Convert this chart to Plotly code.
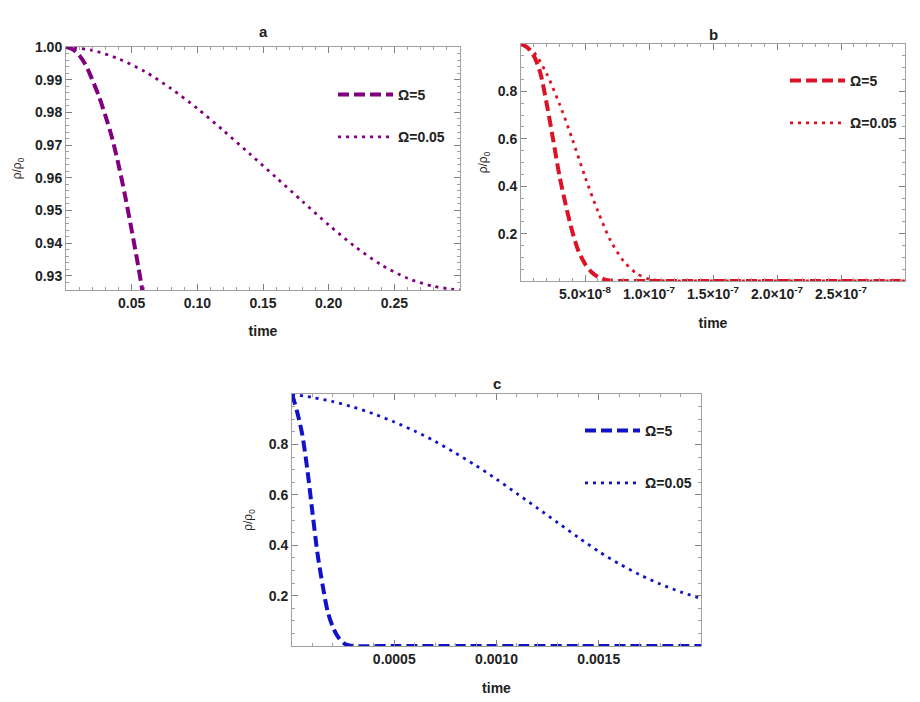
import plotly.graph_objects as go

# ---- panel a : time vs rho/rho0 ----
a_t_om5 = [0, 0.005, 0.010, 0.015, 0.020, 0.025, 0.030, 0.035, 0.040, 0.045, 0.050, 0.055, 0.060]
a_r_om5 = [1.0, 0.9993, 0.9975, 0.9945, 0.9900, 0.9850, 0.9790, 0.9723, 0.9640, 0.9545, 0.9440, 0.9330, 0.9210]
a_t_om005 = [0, 0.02, 0.04, 0.06, 0.08, 0.10, 0.12, 0.14, 0.16, 0.18, 0.20, 0.22, 0.24, 0.26, 0.28, 0.30]
a_r_om005 = [1.0, 0.9990, 0.9964, 0.9925, 0.9873, 0.9812, 0.9744, 0.9673, 0.9601, 0.9528,
             0.9456, 0.9390, 0.9334, 0.9293, 0.9268, 0.9257]

# ---- panel b ----
b_t_om5 = [0, 0.5e-8, 1e-8, 1.5e-8, 2e-8, 2.5e-8, 3e-8, 3.5e-8, 4e-8, 4.5e-8, 5e-8, 5.5e-8,
           6e-8, 6.5e-8, 7e-8, 8e-8, 10e-8, 15e-8, 20e-8, 25e-8, 30e-8]
b_r_om5 = [1.0, 0.985, 0.95, 0.88, 0.75, 0.60, 0.445, 0.32, 0.21, 0.125, 0.072, 0.038,
           0.018, 0.007, 0.002, 0.0, 0.0, 0.0, 0.0, 0.0, 0.0]
b_t_om005 = [0, 1e-8, 2e-8, 3e-8, 4e-8, 5e-8, 6e-8, 7e-8, 8e-8, 9e-8, 10e-8, 11e-8, 12e-8,
             15e-8, 20e-8, 25e-8, 30e-8]
b_r_om005 = [1.0, 0.965, 0.875, 0.748, 0.60, 0.44, 0.295, 0.170, 0.085, 0.033, 0.008, 0.001, 0.0,
             0.0, 0.0, 0.0, 0.0]

# ---- panel c ----
c_t_om5 = [0, 0.25e-4, 0.5e-4, 0.75e-4, 1.0e-4, 1.25e-4, 1.5e-4, 1.75e-4, 2.0e-4, 2.25e-4,
           2.5e-4, 2.75e-4, 3.0e-4, 5e-4, 10e-4, 15e-4, 20e-4]
c_r_om5 = [1.0, 0.93, 0.84, 0.70, 0.53, 0.365, 0.24, 0.135, 0.075, 0.036,
           0.013, 0.003, 0.0, 0.0, 0.0, 0.0, 0.0]
c_t_om005 = [0, 1e-4, 2e-4, 3e-4, 4e-4, 5e-4, 6e-4, 7e-4, 8e-4, 9e-4, 10e-4, 11e-4, 12e-4,
             13e-4, 14e-4, 15e-4, 16e-4, 17e-4, 18e-4, 19e-4, 20e-4]
c_r_om005 = [1.0, 0.986, 0.970, 0.948, 0.921, 0.889, 0.853, 0.812, 0.765, 0.716, 0.662, 0.605,
             0.547, 0.489, 0.431, 0.375, 0.326, 0.283, 0.246, 0.215, 0.188]

# tick labels
a_xticks = [0.05, 0.10, 0.15, 0.20, 0.25]
a_xlabels = ["0.05", "0.10", "0.15", "0.20", "0.25"]
a_yticks = [0.93, 0.94, 0.95, 0.96, 0.97, 0.98, 0.99, 1.00]
a_ylabels = ["0.93", "0.94", "0.95", "0.96", "0.97", "0.98", "0.99", "1.00"]
b_xticks = [5e-8, 1e-7, 1.5e-7, 2e-7, 2.5e-7]
b_xlabels = ["5.0\u00d710<sup>-8</sup>", "1.0\u00d710<sup>-7</sup>", "1.5\u00d710<sup>-7</sup>",
             "2.0\u00d710<sup>-7</sup>", "2.5\u00d710<sup>-7</sup>"]
bc_yticks = [0.2, 0.4, 0.6, 0.8]
bc_ylabels = ["0.2", "0.4", "0.6", "0.8"]
c_xticks = [0.0005, 0.0010, 0.0015]
c_xlabels = ["0.0005", "0.0010", "0.0015"]

series_names = ["\u03a9=5", "\u03a9=0.05"]
panel_titles = ["a", "b", "c"]

W, H = 920, 702
OFF = 8  # page body margin of the browser
FONT = "Liberation Sans"
DASH = "11px,5px"
DOT = "3px,5px"


def px_dom(x0, x1, y0, y1):
    # page-pixel box -> paper domains
    return [(x0 - OFF) / W, (x1 - OFF) / W], [1 - (y1 - OFF) / H, 1 - (y0 - OFF) / H]


def pxx(x):
    return (x - OFF) / W


def pxy(y):
    return 1 - (y - OFF) / H


def axis(dom, rng, tv, tt, minor_dtick, title=None):
    return dict(
        domain=dom, range=rng, tickmode="array", tickvals=tv, ticktext=tt,
        showline=True, linecolor="#a0a0a0", linewidth=1, mirror="ticks",
        ticks="inside", ticklen=6, tickcolor="#808080", tickwidth=1,
        minor=dict(tickmode="linear", tick0=0, dtick=minor_dtick, ticks="inside",
                   ticklen=3, tickcolor="#a0a0a0"),
        showgrid=False, zeroline=False,
        tickfont=dict(family=FONT, size=14, color="#222", weight="bold"),
        title=title, automargin=False,
    )


fig = go.Figure()

panels = [
    ("#800080", (a_t_om5, a_r_om5), (a_t_om005, a_r_om005), "x", "y", "legend"),
    ("#dc1226", (b_t_om5, b_r_om5), (b_t_om005, b_r_om005), "x2", "y2", "legend2"),
    ("#1212c8", (c_t_om5, c_r_om5), (c_t_om005, c_r_om005), "x3", "y3", "legend3"),
]
for i, (col, s5, s005, xa, ya, lg) in enumerate(panels):
    fig.add_trace(go.Scatter(
        x=s5[0], y=s5[1], mode="lines", name=series_names[0], xaxis=xa, yaxis=ya,
        line=dict(color=col, width=4, dash=DASH, shape="spline", smoothing=0.8),
        legend=lg, legendgroup=f"{i}a",
    ))
    fig.add_trace(go.Scatter(
        x=s005[0], y=s005[1], mode="lines", name=series_names[1], xaxis=xa, yaxis=ya,
        line=dict(color=col, width=2.8, dash=DOT, shape="spline", smoothing=0.8),
        legend=lg, legendgroup=f"{i}b",
    ))

xa_dom, ya_dom = px_dom(66, 460, 47, 290)
xb_dom, yb_dom = px_dom(521, 905, 44, 281)
xc_dom, yc_dom = px_dom(292, 701, 394, 646)


def xt(standoff):
    return dict(text="time", font=dict(family=FONT, size=14, color="#222", weight="bold"),
                standoff=standoff)


def yt(standoff):
    return dict(text="\u03c1/\u03c1<sub>0</sub>", font=dict(family=FONT, size=12, color="#222"),
                standoff=standoff)


fig.update_layout(
    width=W, height=H,
    paper_bgcolor="white", plot_bgcolor="white",
    margin=dict(l=0, r=0, t=0, b=0),
    xaxis=axis(xa_dom, [0, 0.30], a_xticks, a_xlabels, 0.01, xt(16)),
    yaxis=axis(ya_dom, [0.9257, 1.0], a_yticks, a_ylabels, 0.002, yt(10)),
    xaxis2=axis(xb_dom, [0, 3.0e-7], b_xticks, b_xlabels, 1e-8, xt(17)),
    yaxis2=axis(yb_dom, [0, 1.0], bc_yticks, bc_ylabels, 0.05, yt(7)),
    xaxis3=axis(xc_dom, [0, 0.002], c_xticks, c_xlabels, 0.0001, xt(17)),
    yaxis3=axis(yc_dom, [0, 1.0], bc_yticks, bc_ylabels, 0.05, yt(13)),
    showlegend=True,
)
fig.layout.yaxis2.anchor = "x2"
fig.layout.xaxis2.anchor = "y2"
fig.layout.yaxis3.anchor = "x3"
fig.layout.xaxis3.anchor = "y3"

leg_font = dict(family=FONT, size=14, color="#222", weight="bold")
fig.update_layout(
    legend=dict(x=pxx(333), y=pxy(79), xanchor="left", yanchor="top", font=leg_font,
                bgcolor="rgba(0,0,0,0)", tracegroupgap=21, traceorder="grouped", itemwidth=55),
    legend2=dict(x=pxx(785), y=pxy(65), xanchor="left", yanchor="top", font=leg_font,
                 bgcolor="rgba(0,0,0,0)", tracegroupgap=21, traceorder="grouped", itemwidth=55),
    legend3=dict(x=pxx(580), y=pxy(415), xanchor="left", yanchor="top", font=leg_font,
                 bgcolor="rgba(0,0,0,0)", tracegroupgap=31, traceorder="grouped", itemwidth=55),
)

title_pos = [(263, 32), (713, 35), (497, 383)]
for t, (x, y) in zip(panel_titles, title_pos):
    fig.add_annotation(text=t, x=pxx(x), y=pxy(y), xref="paper", yref="paper",
                       xanchor="center", yanchor="middle", showarrow=False,
                       font=dict(family=FONT, size=15, color="#222", weight="bold"))

fig.write_html("out.html")
